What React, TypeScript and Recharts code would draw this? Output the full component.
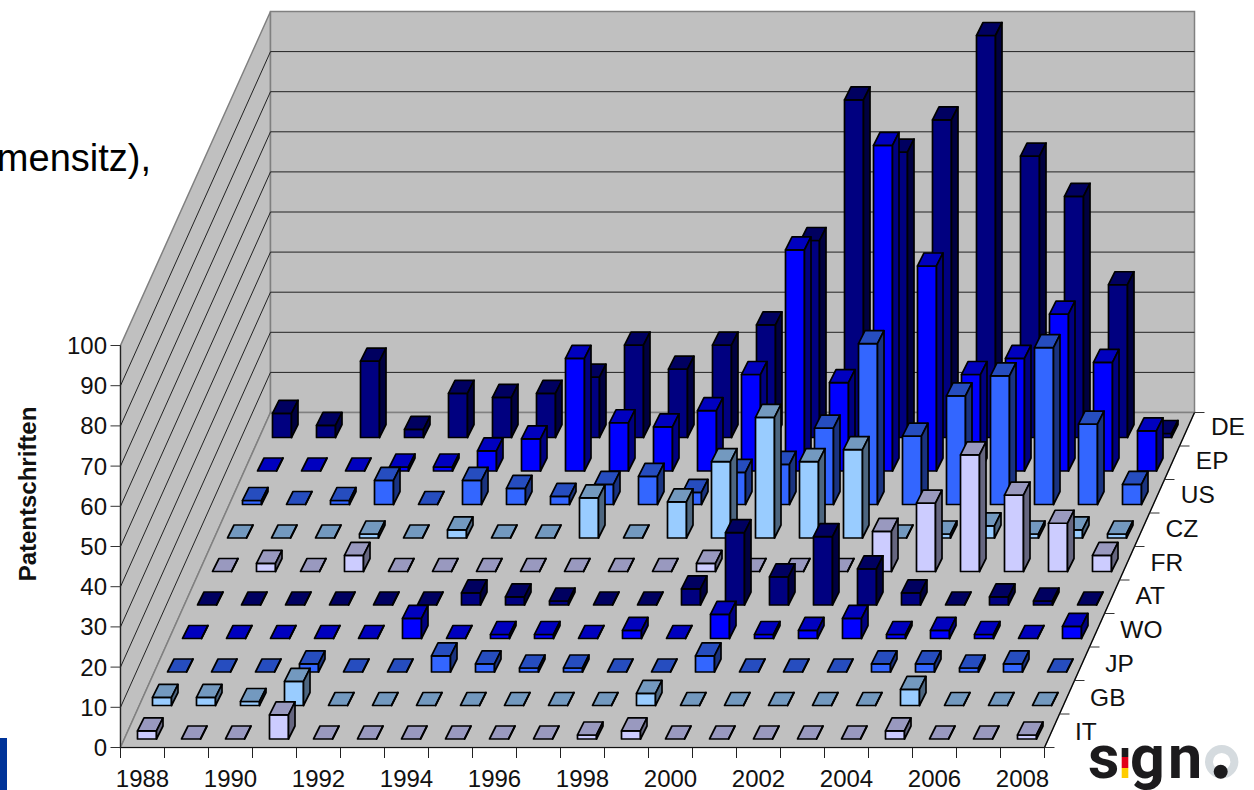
import { BarChart, Bar, XAxis, YAxis } from "recharts";

const FONT = '"Liberation Sans", Arial, sans-serif';

const YEARS = [
  "1988", "1989", "1990", "1991", "1992", "1993", "1994", "1995", "1996", "1997", "1998",
  "1999", "2000", "2001", "2002", "2003", "2004", "2005", "2006", "2007", "2008",
];
const Y_TICKS = [0, 10, 20, 30, 40, 50, 60, 70, 80, 90, 100];

// front row first
const ROWS = ["IT", "GB", "JP", "WO", "AT", "FR", "CZ", "US", "EP", "DE"];

const IT = [2, 0, 0, 6, 0, 0, 0, 0, 0, 0, 1, 2, 0, 0, 0, 0, 0, 2, 0, 0, 1];
const GB = [2, 2, 1, 6, 0, 0, 0, 0, 0, 0, 0, 3, 0, 0, 0, 0, 0, 4, 0, 0, 0];
const JP = [0, 0, 0, 2, 0, 0, 4, 2, 1, 1, 0, 0, 4, 0, 0, 0, 2, 2, 1, 2, 0];
const WO = [0, 0, 0, 0, 0, 5, 0, 1, 1, 0, 2, 0, 6, 1, 2, 5, 1, 2, 1, 0, 3];
const AT = [0, 0, 0, 0, 0, 0, 3, 2, 1, 0, 0, 4, 18, 7, 17, 9, 3, 0, 2, 1, 0];
const FR = [0, 2, 0, 4, 0, 0, 0, 0, 0, 0, 0, 2, 0, 0, 0, 10, 17, 29, 19, 12, 4];
const CZ = [0, 0, 0, 1, 0, 2, 0, 0, 10, 0, 9, 19, 30, 19, 22, 0, 1, 3, 1, 2, 1];
const US = [1, 0, 1, 6, 0, 6, 4, 2, 5, 7, 3, 8, 10, 19, 40, 17, 27, 32, 39, 20, 5];
const EP = [0, 0, 0, 1, 1, 5, 8, 28, 12, 11, 15, 24, 55, 22, 81, 51, 24, 28, 39, 27, 10];
const DE = [6, 3, 19, 2, 11, 10, 11, 15, 23, 17, 23, 28, 49, 84, 71, 79, 100, 70, 60, 38, 1];

const SERIES = [IT, GB, JP, WO, AT, FR, CZ, US, EP, DE];

// front, top, side
const COLORS = [
  ["#ccccff", "#9999bf", "#666680"],
  ["#99ccff", "#7399bf", "#4d6680"],
  ["#3366ff", "#264dbf", "#1a3380"],
  ["#0000ff", "#0000bf", "#000080"],
  ["#000080", "#000060", "#000040"],
];

const tableData = YEARS.map((year, i) => {
  const row: Record<string, any> = { year };
  ROWS.forEach((r, j) => (row[r] = SERIES[j][i]));
  return row;
});

// oblique projection of the chart box
const LEFT = 120.5;
const RIGHT = 1044.5;
const TOP = 345.5;
const BOTTOM = 747.5;
const SHIFT_X = 15;
const SHIFT_Y = 33.5;
const DEPTH_X = SHIFT_X * ROWS.length;
const DEPTH_Y = SHIFT_Y * ROWS.length;
const BAR_W = 19;

function Box(props: any) {
  const { x, y, width, height, row } = props;
  const [front, top, side] = COLORS[row % 5];
  // move the bar from the front edge of the floor to its own row
  const left = x + 4 + row * SHIFT_X;
  const right = left + width;
  const base = y + height - 8.5 - row * SHIFT_Y;
  const t = base - height;
  const dx = 6.5;
  const dy = 13;
  return (
    <g stroke="#000" strokeWidth={1.7} strokeLinejoin="round">
      <rect x={left} y={t} width={width} height={height} fill={front} />
      <polygon
        points={`${left},${t} ${right},${t} ${right + dx},${t - dy} ${left + dx},${t - dy}`}
        fill={top}
      />
      <polygon
        points={`${right},${t} ${right + dx},${t - dy} ${right + dx},${base - dy} ${right},${base}`}
        fill={side}
      />
    </g>
  );
}

function Backdrop() {
  const wallStep = (BOTTOM - DEPTH_Y - 11.5) / 10;
  const frontStep = (BOTTOM - TOP) / 10;
  const grey = "#808080";
  return (
    <svg
      width={1254}
      height={790}
      style={{ position: "absolute", left: 0, top: 0 }}
      fontFamily={FONT}
    >
      <polygon
        points={`${LEFT},${BOTTOM} ${LEFT},${TOP} ${LEFT + DEPTH_X},11.5 ${LEFT + DEPTH_X},${BOTTOM - DEPTH_Y}`}
        fill="#c0c0c0"
        stroke={grey}
        strokeWidth={1.5}
      />
      <rect
        x={LEFT + DEPTH_X}
        y={11.5}
        width={RIGHT - LEFT}
        height={BOTTOM - DEPTH_Y - 11.5}
        fill="#c0c0c0"
        stroke={grey}
        strokeWidth={1.5}
      />
      <polygon
        points={`${LEFT},${BOTTOM} ${RIGHT},${BOTTOM} ${RIGHT + DEPTH_X},${BOTTOM - DEPTH_Y} ${LEFT + DEPTH_X},${BOTTOM - DEPTH_Y}`}
        fill="#c0c0c0"
        stroke={grey}
        strokeWidth={1.5}
      />
      {Y_TICKS.slice(1, 10).map((_, k) => (
        <g key={k} stroke="#222" strokeWidth={1}>
          <line
            x1={LEFT + DEPTH_X}
            x2={RIGHT + DEPTH_X}
            y1={BOTTOM - DEPTH_Y - wallStep * (k + 1)}
            y2={BOTTOM - DEPTH_Y - wallStep * (k + 1)}
          />
          <line
            x1={LEFT}
            x2={LEFT + DEPTH_X}
            y1={BOTTOM - frontStep * (k + 1)}
            y2={BOTTOM - DEPTH_Y - wallStep * (k + 1)}
          />
        </g>
      ))}
      <line
        x1={RIGHT}
        y1={BOTTOM}
        x2={RIGHT + DEPTH_X}
        y2={BOTTOM - DEPTH_Y}
        stroke="#000"
        strokeWidth={1.2}
      />
      {YEARS.concat("").map((y, k) => (
        <line
          key={k}
          x1={LEFT + (k * (RIGHT - LEFT)) / YEARS.length}
          x2={LEFT + (k * (RIGHT - LEFT)) / YEARS.length}
          y1={BOTTOM}
          y2={BOTTOM + 10.5}
          stroke="#222"
        />
      ))}
      {ROWS.concat("").map((r, i) => (
        <line
          key={i}
          x1={RIGHT + i * SHIFT_X}
          x2={RIGHT + i * SHIFT_X + 10}
          y1={BOTTOM - i * SHIFT_Y}
          y2={BOTTOM - i * SHIFT_Y}
          stroke="#333"
        />
      ))}
      {ROWS.map((r, i) => (
        <text key={r} x={1075 + i * 15.1} y={740 - i * 33.9} fontSize={24.5} fill="#111">
          {r}
        </text>
      ))}
      <text
        transform="translate(36,494) rotate(-90)"
        textAnchor="middle"
        fontSize={24}
        fontWeight="bold"
        fill="#111"
      >
        Patentschriften
      </text>
      <text x={151} y={171} textAnchor="end" fontSize={38} fill="#000">
        rmensitz),
      </text>
      <rect x={0} y={738} width={7} height={52} fill="#003399" />
      {/* signo logo */}
      <g fontFamily="Roboto, sans-serif" fontWeight={700} fontSize={61} fill="#1c1b1d">
        <text x={1088} y={778}>s</text>
        <text x={1130} y={778}>g</text>
        <text x={1168} y={778}>n</text>
      </g>
      <rect x={1121.7} y={748} width={6.6} height={9} fill="#1c1b1d" />
      <rect x={1121.7} y={757} width={6.6} height={11} fill="#e2001a" />
      <rect x={1121.7} y={768} width={6.6} height={10} fill="#ffcc00" />
      <circle cx={1221.7} cy={761.7} r={12.7} fill="none" stroke="#d5dbdf" strokeWidth={8} />
      <circle cx={1220.7} cy={771.7} r={7} fill="#1c1b1d" />
    </svg>
  );
}

export default function App() {
  return (
    <div style={{ position: "fixed", left: 0, top: 0, width: 1254, height: 790, background: "#fff" }}>
      <Backdrop />
      <div style={{ position: "absolute", left: 0, top: 0 }}>
        <BarChart
          width={1254}
          height={790}
          data={tableData}
          margin={{ top: TOP, right: 1254 - RIGHT, left: LEFT - 60, bottom: 0 }}
          barCategoryGap={0}
        >
          <YAxis
            yAxisId="v"
            width={60}
            domain={[0, 100]}
            ticks={Y_TICKS}
            interval={0}
            tickSize={10}
            tickMargin={3.5}
            tick={{ fontSize: 24, fontFamily: FONT, fill: "#111" }}
            tickLine={{ stroke: "#333" }}
            axisLine={{ stroke: "#222", strokeWidth: 1.2 }}
          />
          {ROWS.map((r, i) => (
            <XAxis
              key={r}
              xAxisId={r}
              dataKey="year"
              hide={i !== 0}
              height={i === 0 ? 42.5 : 0}
              interval={1}
              tickSize={0}
              tickMargin={22}
              tick={{ fontSize: 24, fontFamily: FONT, fill: "#111" }}
              axisLine={{ stroke: "#111", strokeWidth: 1.2 }}
              tickLine={false}
            />
          ))}
          {ROWS.map((r, i) => i)
            .reverse()
            .map((i) => (
              <Bar
                key={ROWS[i]}
                dataKey={ROWS[i]}
                xAxisId={ROWS[i]}
                yAxisId="v"
                barSize={BAR_W}
                isAnimationActive={false}
                shape={(p: any) => <Box {...p} row={i} />}
              />
            ))}
        </BarChart>
      </div>
    </div>
  );
}
